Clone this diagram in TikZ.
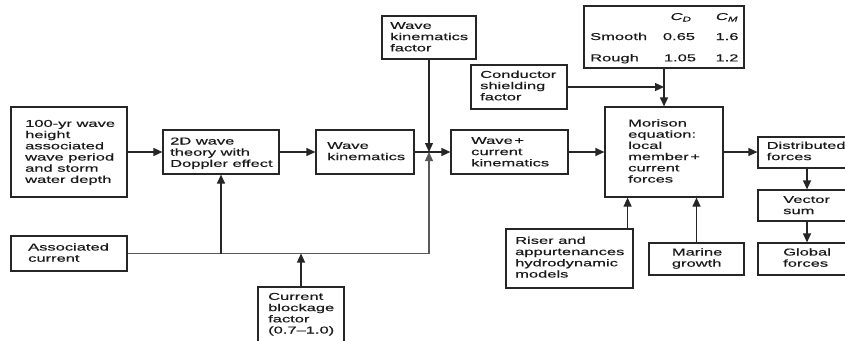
\documentclass[tikz,border=0pt]{standalone}
\usepackage{fontspec}
\setmainfont{Liberation Sans}[FakeStretch=1.65,FakeBold=0.4]
\usetikzlibrary{arrows.meta,fit}
\newcommand{\fs}{\rule{0pt}{8pt}}
\begin{document}
\begin{tikzpicture}[x=1pt,y=-1pt,
  box/.style={draw=black!85,line width=1.2pt,inner sep=0pt,fit={#1}},
  txt/.style={anchor=north west,inner sep=0pt,align=left,font=\fontsize{10}{11.2}\selectfont,text=black!90},
  tab/.style={anchor=base,inner sep=0pt,font=\fontsize{10}{11.2}\selectfont,text=black!90},
  arr/.style={line width=1.2pt,draw=black!85,-{Triangle[length=9pt,width=8pt]}},
  cur/.style={draw=black!65}]
\useasboundingbox (0,0) rectangle (845,340);
\clip (0,0) rectangle (845,340);
% boxes
\node[box={(11,107) (127,197)}] (b1) {};
\node[box={(163,130) (279,174)}] (b2) {};
\node[box={(316,130) (414,174)}] (b3) {};
\node[box={(11,236) (127,271)}] (assoc) {};
\node[box={(258,287) (344,352)}] (block) {};
\node[box={(382,16) (476,59)}] (wkf) {};
\node[box={(471,65) (567,109)}] (cond) {};
\node[box={(451,130) (568,174)}] (wc) {};
\node[box={(605,107) (723,197)}] (mor) {};
\node[box={(584,6) (744,68)}] (tabl) {};
\node[box={(506,229) (633,288)}] (riser) {};
\node[box={(649,243) (744,275)}] (marine) {};
\node[box={(758,137) (856,168)}] (dist) {};
\node[box={(758,190) (856,221)}] (vec) {};
\node[box={(758,243) (856,275)}] (glob) {};
% texts
\node[txt] (t1) at (25,118.7) {\fs 100-yr wave\\height\\associated\\wave period\\and storm\\water depth};
\node[txt] (t2) at (170,136.3) {\fs 2D wave\\theory with\\Doppler effect};
\node[txt] (t3) at (327,140.7) {\fs Wave\\kinematics};
\node[txt] (t4) at (28,242.3) {\fs Associated\\current};
\node[txt] (t5) at (268,291.7) {\fs Current\\blockage\\factor\\(0.7--1.0)};
\node[txt] (t6) at (390,20.7) {\fs Wave\\kinematics\\factor};
\node[txt] (t7) at (480,69.7) {\fs Conductor\\shielding\\factor};
\node[txt] (t8) at (471,135.7) {\fs Wave\,+\\current\\kinematics};
\node[txt] (t9) at (628,118.3) {\fs Morison\\equation:\\local\\member\,+\\current\\forces};
\node[txt] (t10) at (515,235.7) {\fs Riser and\\appurtenances\\hydrodynamic\\models};
\node[txt] (t11) at (671.7,247.3) {\fs Marine\\growth};
\node[txt] (t12) at (766.5,140.7) {\fs Distributed\\forces};
\node[txt] (t13) at (783,194.7) {\fs Vector\\sum};
\node[txt] (t14) at (783,247.3) {\fs Global\\forces};
% table
\node[tab] (cd) at (681,20) {\textit{C}\textsubscript{\textit{D}}};
\node[tab] (cm) at (727,20) {\textit{C}\textsubscript{\textit{M}}};
\node[tab,anchor=base west] (sm) at (590,40) {Smooth};
\node[tab] (s1) at (679,40) {0.65};
\node[tab] (s2) at (727,40) {1.6};
\node[tab,anchor=base west] (ro) at (590,61.3) {Rough};
\node[tab] (r1) at (680,61.3) {1.05};
\node[tab] (r2) at (727,61.3) {1.2};
% connectors
\coordinate (J) at (429,152);
\draw[arr] (b1) -- (b2);
\draw[arr] (b2) -- (b3);
\draw[arr] (b3.east) -- (wc.west);
\draw[arr] (wkf.south -| J) -- (J);
\draw[arr,cur] (assoc.east) -- (J |- assoc.east) -- (J);
\coordinate (Br) at (b2.south |- assoc.east);
\draw[arr] (Br) -- (b2.south);
\draw[arr] (block.north) -- (block.north |- assoc.east);
\draw[arr] (wc.east) -- (mor.west |- wc.east);
\draw[arr] (tabl.south) -- (mor.north);
\coordinate (K) at (tabl.south |- cond.east);
\draw[arr] (cond.east) -- (K);
\coordinate (R) at ([xshift=-6pt]riser.north east);
\draw[arr] (R) -- (R |- mor.south);
\draw[arr] (marine.north) -- (marine.north |- mor.south);
\draw[arr] (mor.east) -- (mor.east -| dist.west);
\draw[arr] (dist) -- (vec);
\draw[arr] (vec) -- (glob);
\end{tikzpicture}
\end{document}
